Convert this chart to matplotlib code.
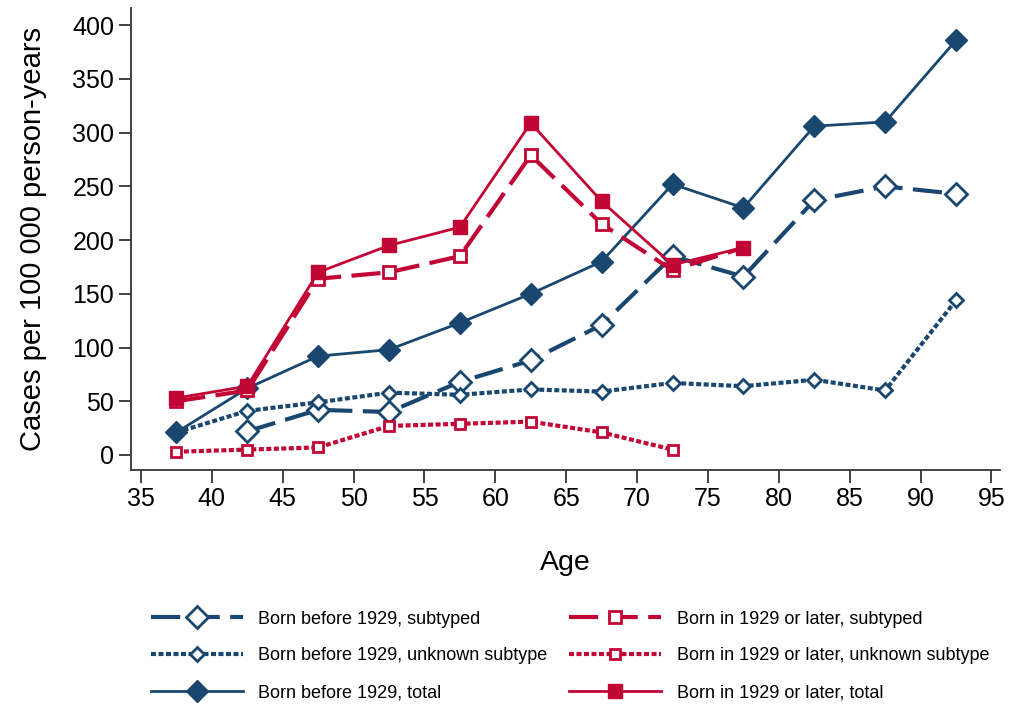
import matplotlib.pyplot as plt

plt.rcParams['font.family'] = ['Liberation Sans', 'DejaVu Sans']

BLUE = "#1a476f"
RED = "#c10534"

age = [37.5, 42.5, 47.5, 52.5, 57.5, 62.5, 67.5, 72.5, 77.5, 82.5, 87.5, 92.5]
age_young = age[:9]

# Born before 1929
before_sub_age = age[1:]
before_sub = [22, 42, 40, 68, 88, 121, 185, 166, 237, 250, 243]
before_unk = [21, 41, 49, 58, 56, 61, 59, 67, 64, 70, 60, 144]
before_tot = [21, 62, 92, 98, 123, 150, 180, 252, 230, 306, 310, 386]

# Born in 1929 or later
later_sub = [50, 60, 164, 170, 185, 279, 215, 172, 193]
later_unk = [3, 5, 7, 27, 29, 31, 21, 5]
later_tot = [53, 64, 170, 195, 212, 309, 236, 177, 193]

fig = plt.figure(figsize=(10.11, 7.07), dpi=100)
ax = fig.add_axes([131 / 1011, 1 - 470 / 707, (1000 - 131) / 1011, (470 - 8) / 707])

dash = (7, 2.5)
dot = (1.2, 0.6)

ax.plot(before_sub_age, before_sub, color=BLUE, lw=3, dashes=dash, marker="D", ms=11,
        mfc="white", mec=BLUE, mew=2, label="Born before 1929, subtyped")
ax.plot(age, before_unk, color=BLUE, lw=3, dashes=dot, marker="D", ms=7.5,
        mfc="white", mec=BLUE, mew=2, label="Born before 1929, unknown subtype")
ax.plot(age, before_tot, color=BLUE, lw=2, marker="D", ms=11,
        mfc=BLUE, mec=BLUE, label="Born before 1929, total")
ax.plot(age_young, later_sub, color=RED, lw=3, dashes=dash, marker="s", ms=9,
        mfc="white", mec=RED, mew=2, label="Born in 1929 or later, subtyped")
ax.plot(age_young[:8], later_unk, color=RED, lw=3, dashes=dot, marker="s", ms=7,
        mfc="white", mec=RED, mew=2, label="Born in 1929 or later, unknown subtype")
ax.plot(age_young, later_tot, color=RED, lw=2, marker="s", ms=10,
        mfc=RED, mec=RED, label="Born in 1929 or later, total")

ax.set_xlim(34.3, 95.6)
ax.set_ylim(-14, 416)
ax.set_xticks(range(35, 96, 5))
ax.set_yticks(range(0, 401, 50))
ax.spines["top"].set_visible(False)
ax.spines["right"].set_visible(False)
for s in ("left", "bottom"):
    ax.spines[s].set_color("#333333")
    ax.spines[s].set_linewidth(1.3)
ax.tick_params(axis="both", labelsize=18, length=9, width=1.3, color="#333333", pad=3)
ax.set_xlabel("Age", fontsize=20.5, labelpad=28)
ax.set_ylabel("Cases per 100 000 person-years", fontsize=21, labelpad=18)

fig.legend(loc="lower center", bbox_to_anchor=(0.564, -0.015), ncol=2, frameon=False,
           fontsize=13, handlelength=5.1, columnspacing=1.2, labelspacing=1.1,
           handletextpad=0.85)

fig.savefig("out.png", dpi=100)
